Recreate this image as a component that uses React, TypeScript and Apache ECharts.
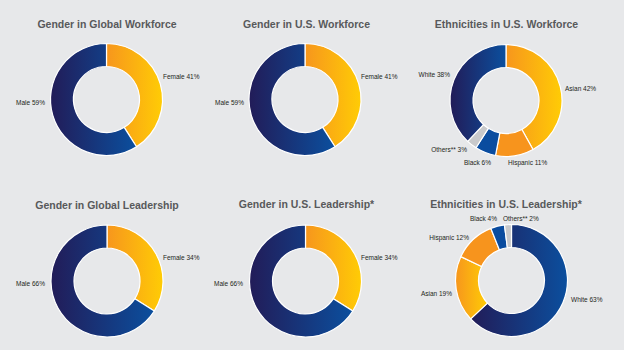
import React, { useEffect, useRef } from 'react';
import * as echarts from 'echarts';

// ---- data ----
const genderCategories = ['Female', 'Male'];
const globalWorkforce = [41, 59];
const usWorkforce = [41, 59];
const globalLeadership = [34, 66];
const usLeadership = [34, 66];

const ethWorkforceCategories = ['Asian', 'Hispanic', 'Black', 'Others**', 'White'];
const ethWorkforce = [42, 11, 6, 3, 38];

const ethLeadershipCategories = ['White', 'Asian', 'Hispanic', 'Black', 'Others**'];
const ethLeadership = [63, 19, 12, 4, 2];

const chartTitles = [
  'Gender in Global Workforce',
  'Gender in U.S. Workforce',
  'Ethnicities in U.S. Workforce',
  'Gender in Global Leadership',
  'Gender in U.S. Leadership*',
  'Ethnicities in U.S. Leadership*',
];

// ---- layout (pixels) ----
const centers: [number, number][] = [
  [106.5, 99.5],
  [305, 99.5],
  [506, 100.5],
  [107, 281],
  [305.5, 281],
  [511.5, 280.5],
];
const titlePos: [number, number][] = [
  [107, 24],
  [306.5, 24],
  [506.5, 24],
  [107, 205],
  [306.5, 204],
  [506, 204],
];
// label anchor offsets relative to pie centre: [dx, dy, align]
const labelOffsets: [number, number, string][][] = [
  [[56.5, -23.5, 'left'], [-61.5, 2.5, 'right']],
  [[56, -23.5, 'left'], [-61, 2.5, 'right']],
  [[59, -12, 'left'], [2, 62, 'left'], [-15, 62, 'right'], [-39, 49, 'right'], [-56, -26, 'right']],
  [[56, -24, 'left'], [-62, 2, 'right']],
  [[55.5, -24, 'left'], [-62.5, 2, 'right']],
  [[59.5, 18.5, 'left'], [-59.5, 12.5, 'right'], [-42.5, -43.5, 'right'], [-14.5, -62.5, 'right'], [-8.5, -62.5, 'left']],
];

const grad = (c0: string, c1: string) =>
  new echarts.graphic.LinearGradient(0, 0, 1, 0, [
    { offset: 0, color: c0 },
    { offset: 1, color: c1 },
  ]);

const colorFor = (name: string) => {
  switch (name) {
    case 'Female':
    case 'Asian':
      return grad('#f7961d', '#ffcc05');
    case 'Male':
    case 'White':
      return grad('#221c58', '#0b4f9e');
    case 'Hispanic':
      return '#f7941d';
    case 'Black':
      return '#0a4c9f';
    default:
      return '#c8c9cb';
  }
};

const makeSeries = (idx: number, cats: string[], vals: number[]) => ({
  type: 'pie',
  center: centers[idx],
  radius: [33, 56],
  startAngle: 90,
  clockwise: true,
  silent: true,
  avoidLabelOverlap: false,
  itemStyle: { borderColor: '#ffffff', borderWidth: 1.2 },
  label: {
    show: true,
    position: 'outside',
    formatter: '{b} {c}%',
    fontSize: 6.5,
    color: '#231f20',
    fontFamily: 'Liberation Sans, Arial, sans-serif',
  },
  labelLine: { show: false },
  labelLayout: (p: any) => {
    const o = labelOffsets[idx][p.dataIndex];
    return {
      x: centers[idx][0] + o[0],
      y: centers[idx][1] + o[1],
      align: o[2],
      verticalAlign: 'middle',
    };
  },
  data: cats.map((c, i) => ({ name: c, value: vals[i], itemStyle: { color: colorFor(c) } })),
});

export default function App() {
  const ref = useRef<HTMLDivElement>(null);
  useEffect(() => {
    const chart = echarts.init(ref.current!, null, { renderer: 'svg' });
    const option = {
      animation: false,
      backgroundColor: '#e7e8ea',
      graphic: chartTitles.map((t, i) => ({
        type: 'text',
        x: titlePos[i][0],
        y: titlePos[i][1],
        style: {
          text: t,
          textAlign: 'center',
          textVerticalAlign: 'middle',
          fontSize: 10.5,
          fontWeight: 'bold',
          fontFamily: 'Liberation Sans, Arial, sans-serif',
          fill: '#58595b',
        },
      })),
      series: [
        makeSeries(0, genderCategories, globalWorkforce),
        makeSeries(1, genderCategories, usWorkforce),
        makeSeries(2, ethWorkforceCategories, ethWorkforce),
        makeSeries(3, genderCategories, globalLeadership),
        makeSeries(4, genderCategories, usLeadership),
        makeSeries(5, ethLeadershipCategories, ethLeadership),
      ],
    };
    chart.setOption(option as any);
    return () => chart.dispose();
  }, []);
  return (
    <div
      ref={ref}
      style={{ position: 'fixed', left: 0, top: 0, width: 624, height: 350 }}
    />
  );
}
